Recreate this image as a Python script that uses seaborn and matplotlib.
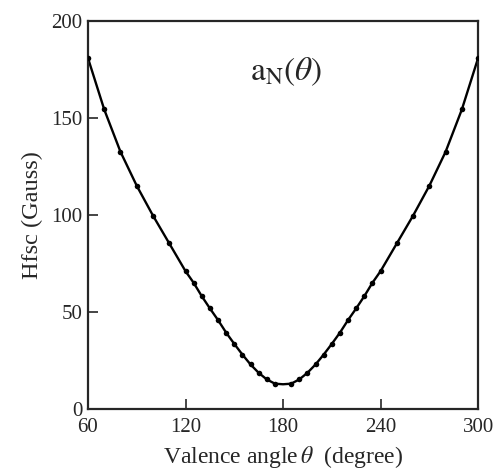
import matplotlib
matplotlib.use("Agg")
import matplotlib.pyplot as plt
import seaborn as sns
import pandas as pd

sns.set_style("ticks")
plt.rcParams["font.family"] = ["Liberation Serif", "DejaVu Serif"]
plt.rcParams["mathtext.fontset"] = "stix"

# dots every 10 deg on the wings, every 5 deg near the minimum
theta_pts = [60, 70, 80, 90, 100, 110, 120, 125, 130, 135, 140, 145, 150, 155,
             160, 165, 170, 175,
             185, 190, 195, 200, 205, 210, 215, 220, 225, 230, 235, 240,
             250, 260, 270, 280, 290, 300]
a_pts = [181.0, 154.5, 132.7, 115.2, 99.8, 85.5, 71.2, 65.2, 58.3, 52.0, 46.0,
         39.5, 33.7, 28.2, 23.1, 18.8, 15.4, 13.2,
         13.2, 15.4, 18.8, 23.1, 28.2, 33.7, 39.5, 46.0, 52.0, 58.3, 65.2, 71.2,
         85.5, 99.8, 115.2, 132.7, 154.5, 181.0]
# curve bottom between the two central dots
theta_min = 180
a_min = 12.9

pts = pd.DataFrame({"theta": theta_pts, "a": a_pts})
curve = pd.concat([pts, pd.DataFrame({"theta": [theta_min], "a": [a_min]})])
curve = curve.sort_values("theta")

fig = plt.figure(figsize=(4.97, 4.71), dpi=100)
ax = fig.add_axes([0.177, 0.131, 0.785, 0.824])

sns.lineplot(data=curve, x="theta", y="a", color="black", linewidth=1.7,
             sort=True, ax=ax)
sns.scatterplot(data=pts, x="theta", y="a", color="black", s=16,
                edgecolor="black", linewidth=0, ax=ax, zorder=3)

ax.set_xlim(60, 300)
ax.set_ylim(0, 200)
ax.set_xticks([60, 120, 180, 240, 300])
ax.set_yticks([0, 50, 100, 150, 200])
ax.tick_params(direction="in", length=7, width=1.2, labelsize=15)
ax.tick_params(axis="y", pad=4)
ax.tick_params(axis="x", pad=6)
for sp in ax.spines.values():
    sp.set_visible(True)
    sp.set_linewidth(1.6)

ax.set_xlabel(r"Valence angle$\,\theta$  (degree)", fontsize=17, labelpad=5)
ax.set_ylabel("Hfsc (Gauss)", fontsize=17.5, labelpad=6)
ax.text(182, 174, r"$\mathrm{a}_{\mathrm{N}}(\theta)$", fontsize=24,
        ha="center", va="center")

fig.savefig("out.png", dpi=100)
